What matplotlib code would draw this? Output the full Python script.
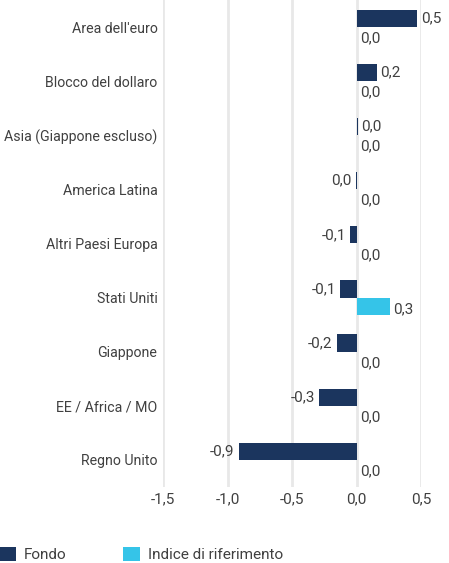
import matplotlib
matplotlib.use("Agg")
import matplotlib.pyplot as plt
import numpy as np

plt.rcParams['font.family'] = ['Roboto', 'DejaVu Sans']

categorie = ["Area dell'euro", "Blocco del dollaro", "Asia (Giappone escluso)",
             "America Latina", "Altri Paesi Europa", "Stati Uniti", "Giappone",
             "EE / Africa / MO", "Regno Unito"]
fondo = [0.47, 0.155, 0.008, -0.008, -0.055, -0.13, -0.155, -0.29, -0.915]
indice = [0.0, 0.0, 0.0, 0.0, 0.0, 0.255, 0.0, 0.0, 0.0]
xticks = [-1.5, -1.0, -0.5, 0.0, 0.5]

c_fondo = '#1b355e'
c_indice = '#35c4e8'
c_text = '#404040'
fs = 11

fig = plt.figure(figsize=(4.49, 5.63), dpi=100)
ax = fig.add_axes([0.363, 0.135, 0.575, 0.865])

y = np.arange(len(categorie))
h = 0.32
ax.barh(y - h / 2, fondo, height=h, color=c_fondo, label='Fondo', zorder=3)
ax.barh(y + h / 2, indice, height=h, color=c_indice, label='Indice di riferimento', zorder=3)

def fmt(v):
    s = f"{v:.1f}"
    if s == "-0.0":
        s = "0.0"
    return s.replace('.', ',')

for yi, v in zip(y, fondo):
    if v >= 0:
        ax.text(v + 0.03, yi - h / 2, fmt(v), ha='left', va='center', fontsize=fs, color=c_text, clip_on=False)
    else:
        ax.text(v - 0.03, yi - h / 2, fmt(v), ha='right', va='center', fontsize=fs, color=c_text, clip_on=False)
for yi, v in zip(y, indice):
    ax.text(v + 0.03, yi + h / 2 + 0.05, fmt(v), ha='left', va='center', fontsize=fs, color=c_text, clip_on=False)

ax.set_xlim(-1.5, 0.5)
ax.set_ylim(len(categorie) - 0.5, -0.5)
ax.set_xticks(xticks)
ax.set_xticklabels([fmt(t) for t in xticks])
ax.set_yticks(y)
ax.set_yticklabels(categorie)
ax.tick_params(axis='both', length=0, labelsize=fs, labelcolor=c_text)
ax.tick_params(axis='y', pad=4, labelsize=10.2)
ax.tick_params(axis='x', pad=4)
ax.grid(axis='x', color='#e8e8e8', linewidth=2, zorder=0)
for s in ax.spines.values():
    s.set_visible(False)

fig.legend(loc='lower left', bbox_to_anchor=(-0.018, -0.012), ncol=2, frameon=False,
           fontsize=fs, handlelength=1.1, handleheight=1.1, handletextpad=0.5,
           columnspacing=3.7, borderpad=0, labelcolor=c_text)

fig.savefig('out.png', dpi=100)
